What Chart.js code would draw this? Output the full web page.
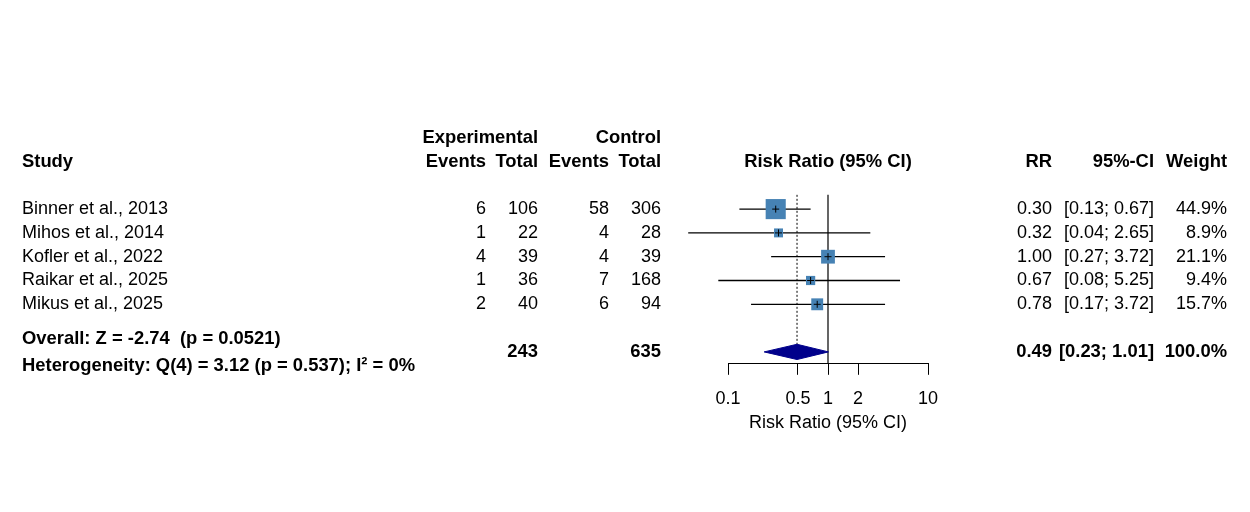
<!DOCTYPE html>
<html>
<head>
<meta charset="utf-8">
<script src="https://cdn.jsdelivr.net/npm/chart.js@4.4.0/dist/chart.umd.min.js"></script>
<style>
  html, body { margin: 0; padding: 0; background: #fff; }
  #wrap { width: 1250px; height: 512px; position: relative; }
</style>
</head>
<body>
<div id="wrap"><canvas id="forest"></canvas></div>
<script>
// ---- data ----
const studies    = ['Binner et al., 2013', 'Mihos et al., 2014', 'Kofler et al., 2022', 'Raikar et al., 2025', 'Mikus et al., 2025'];
const expEvents  = [6, 1, 4, 1, 2];
const expTotal   = [106, 22, 39, 36, 40];
const ctrlEvents = [58, 4, 4, 7, 6];
const ctrlTotal  = [306, 28, 39, 168, 94];
const rr         = [0.30, 0.32, 1.00, 0.67, 0.78];
const ciLow      = [0.13, 0.04, 0.27, 0.08, 0.17];
const ciHigh     = [0.67, 2.65, 3.72, 5.25, 3.72];
const weights    = [44.9, 8.9, 21.1, 9.4, 15.7];
const overall    = { rr: 0.49, lo: 0.23, hi: 1.01, expTotal: 243, ctrlTotal: 635 };
const tickVals   = [0.1, 0.5, 1, 2, 10];

const FONT = '"Liberation Sans", Arial, Helvetica, sans-serif';
Chart.defaults.font.family = FONT;
Chart.defaults.font.size = 18;
Chart.defaults.color = '#000';

const overallRow = studies.length + 2;   // one blank row after the studies

// ---- datasets ----
const datasets = [];

// confidence interval lines
studies.forEach((s, i) => {
    datasets.push({
        data: [{ x: ciLow[i], y: i + 1 }, { x: ciHigh[i], y: i + 1 }],
        showLine: true, borderColor: '#000', borderWidth: 1.3,
        pointRadius: 0, clip: false, order: 3
    });
});

// line of no effect and dotted line at the pooled estimate
datasets.push({
    data: [{ x: 1, y: 0.4 }, { x: 1, y: 7.5 }],
    showLine: true, borderColor: '#000', borderWidth: 1.2, pointRadius: 0, clip: false, order: 4
});
datasets.push({
    data: [{ x: overall.rr, y: 0.4 }, { x: overall.rr, y: overallRow - 0.32 }],
    showLine: true, borderColor: '#000', borderWidth: 1, borderDash: [2, 2], pointRadius: 0, clip: false, order: 4
});

// weighted squares
datasets.push({
    data: rr.map((v, i) => ({ x: v, y: i + 1 })),
    pointStyle: 'rect',
    pointRadius: ctx => 3 * Math.sqrt(weights[ctx.dataIndex]) / Math.SQRT2,
    backgroundColor: '#4682B4', borderWidth: 0, clip: false, order: 2
});

// small cross at the point estimate
datasets.push({
    data: rr.map((v, i) => ({ x: v, y: i + 1 })),
    pointStyle: 'cross', pointRadius: 3.5,
    borderColor: '#000', borderWidth: 1, clip: false, order: 1
});

// pooled diamond
datasets.push({
    data: [
        { x: overall.lo, y: overallRow },
        { x: overall.rr, y: overallRow - 0.32 },
        { x: overall.hi, y: overallRow },
        { x: overall.rr, y: overallRow + 0.32 },
        { x: overall.lo, y: overallRow }
    ],
    showLine: true, fill: 'shape', tension: 0,
    borderColor: '#00008B', backgroundColor: '#00008B', borderWidth: 1,
    pointRadius: 0, clip: false, order: 2
});

// ---- table text drawn next to the plot ----
const tablePlugin = {
    id: 'forestTable',
    afterDraw(chart) {
        const c = chart.ctx;
        const ys = chart.scales.y;
        function txt(s, x, r, align, bold) {
            c.font = bold ? 'bold 18.4px ' + FONT : '18px ' + FONT;
            c.textAlign = align;
            c.textBaseline = 'middle';
            c.fillStyle = '#000';
            c.fillText(s, x, ys.getPixelForValue(r));
        }
        c.save();
        // headers
        txt('Experimental', 538, -2, 'right', true);
        txt('Control', 661, -2, 'right', true);
        txt('Study', 22, -1, 'left', true);
        txt('Events', 486, -1, 'right', true);
        txt('Total', 538, -1, 'right', true);
        txt('Events', 609, -1, 'right', true);
        txt('Total', 661, -1, 'right', true);
        txt('Risk Ratio (95% CI)', 828, -1, 'center', true);
        txt('RR', 1052, -1, 'right', true);
        txt('95%-CI', 1154, -1, 'right', true);
        txt('Weight', 1227, -1, 'right', true);

        studies.forEach((s, i) => {
            const r = i + 1;
            txt(s, 22, r, 'left', false);
            txt(String(expEvents[i]), 486, r, 'right', false);
            txt(String(expTotal[i]), 538, r, 'right', false);
            txt(String(ctrlEvents[i]), 609, r, 'right', false);
            txt(String(ctrlTotal[i]), 661, r, 'right', false);
            txt(rr[i].toFixed(2), 1052, r, 'right', false);
            txt('[' + ciLow[i].toFixed(2) + '; ' + ciHigh[i].toFixed(2) + ']', 1154, r, 'right', false);
            txt(weights[i].toFixed(1) + '%', 1227, r, 'right', false);
        });

        // pooled row
        txt('Overall: Z = -2.74  (p = 0.0521)', 22, overallRow - 0.55, 'left', true);
        txt('Heterogeneity: Q(4) = 3.12 (p = 0.537); I\u00B2 = 0%', 22, overallRow + 0.58, 'left', true);
        txt(String(overall.expTotal), 538, overallRow, 'right', true);
        txt(String(overall.ctrlTotal), 661, overallRow, 'right', true);
        txt(overall.rr.toFixed(2), 1052, overallRow, 'right', true);
        txt('[' + overall.lo.toFixed(2) + '; ' + overall.hi.toFixed(2) + ']', 1154, overallRow, 'right', true);
        txt('100.0%', 1227, overallRow, 'right', true);
        c.restore();
    }
};

new Chart(document.getElementById('forest'), {
    type: 'scatter',
    data: { datasets },
    plugins: [tablePlugin],
    options: {
        responsive: true,
        maintainAspectRatio: false,
        animation: false,
        layout: { padding: { left: 728, right: 322, top: 102, bottom: 78 } },
        plugins: { legend: { display: false }, tooltip: { enabled: false } },
        scales: {
            x: {
                type: 'logarithmic', min: 0.1, max: 10,
                afterBuildTicks: s => { s.ticks = tickVals.map(v => ({ value: v })); },
                ticks: { callback: v => String(v), color: '#000', padding: 13, maxRotation: 0, autoSkip: false },
                grid: { drawOnChartArea: false, drawTicks: true, tickLength: 11, color: '#000', lineWidth: 1 },
                border: { display: true, color: '#000', width: 1 },
                title: { display: true, text: 'Risk Ratio (95% CI)', color: '#000', padding: { top: -10, bottom: 0 } }
            },
            y: {
                type: 'linear', min: -3.5, max: 7.5, reverse: true, display: false
            }
        }
    }
});
</script>
</body>
</html>
